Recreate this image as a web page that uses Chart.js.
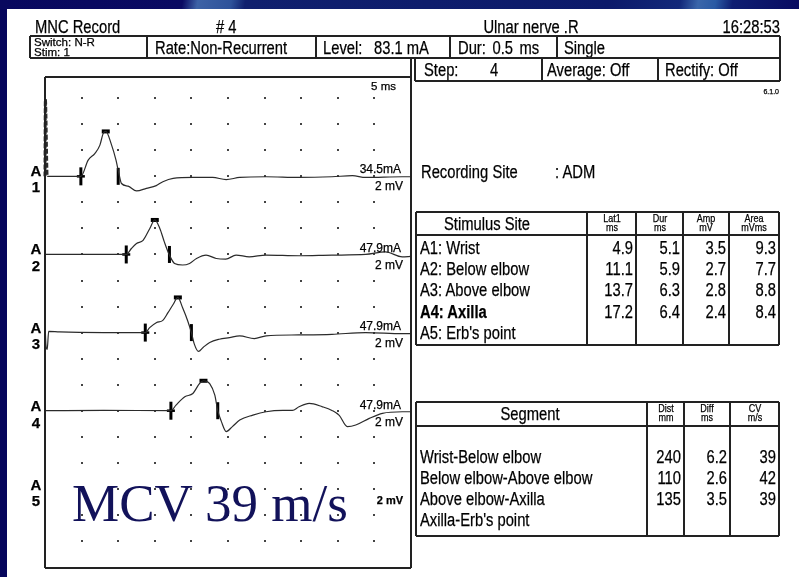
<!DOCTYPE html>
<html><head><meta charset="utf-8">
<script src="https://cdn.jsdelivr.net/npm/chart.js@4.4.1/dist/chart.umd.min.js"></script>
<style>
html,body{margin:0;padding:0;}
body{width:799px;height:577px;overflow:hidden;position:relative;background:#06065c;font-family:"Liberation Sans",Arial,sans-serif;color:#000;}
#topband{position:absolute;left:0;top:0;width:799px;height:9px;background:linear-gradient(100deg,#08085e 0px,#0a0a62 180px,#3d62a6 195px,#2e529a 228px,#10206e 242px,#0c1a6a 600px,#12287a 670px,#3a66aa 688px,#2a5aa4 705px,#0e1e72 722px,#08085e 799px);}
#paper{position:absolute;left:7px;top:9px;width:792px;height:568px;background:#fff;}
#c{position:absolute;left:0;top:0;}
#layer{position:absolute;left:0;top:0;width:799px;height:577px;}
.t{position:absolute;white-space:nowrap;line-height:1;-webkit-text-stroke:0.25px #000;}
.ln{position:absolute;background:#222;}
</style></head>
<body>
<div id="topband"></div>
<div id="paper"></div>
<canvas id="c" width="799" height="577"></canvas>
<div id="layer"></div>
<script>
// ---------- data ----------
const siteNames = ["A1: Wrist","A2: Below elbow","A3: Above elbow","A4: Axilla","A5: Erb's point"];
const latency = [4.9, 11.1, 13.7, 17.2, null];
const duration = [5.1, 5.9, 6.3, 6.4, null];
const amplitude = [3.5, 2.7, 2.8, 2.4, null];
const area = [9.3, 7.7, 8.8, 8.4, null];
const stimCurrent = ["34.5mA","47.9mA","47.9mA","47.9mA",null];
const segmentNames = ["Wrist-Below elbow","Below elbow-Above elbow","Above elbow-Axilla","Axilla-Erb's point"];
const segDist = [240, 110, 135, null];
const segDiff = [6.2, 2.6, 3.5, null];
const segCV = [39, 42, 39, null];

// traces: time (ms) and amplitude (mV)
const a1Time = [0,0.05,0.3,2.5,4.9,5.9,6.8,7.5,7.95,8.3,9.1,9.7,10.1,10.45,11.35,12.5,13.85,15.2,16.1,17.5,20.2,22.9,24.75,26.6,30.2,34.7,39.2,42.0,43.8,48.8,50];
const a1Amp  = [0,5.9,0,0,0,1.25,1.75,2.4,3.3,3.45,2.4,1.25,0.2,-0.55,-0.75,-1.12,-0.92,-0.71,-0.41,-0.15,-0.08,-0.08,-0.25,-0.08,-0.03,-0.08,-0.03,0.05,-0.08,-0.03,-0.03];
const a2Time = [0,11.1,11.8,12.5,13.4,14.3,15.0,15.7,16.3,17.0,17.7,18.8,19.75,20.7,22.0,23.4,24.7,26.1,27.9,30.2,34.7,39.2,43.8,46.5,48.8,50];
const a2Amp  = [0,0,0.46,0.84,1.09,1.98,2.65,1.98,0.97,-0.05,-0.69,-0.81,-0.69,-0.31,-0.05,-0.31,-0.36,-0.05,-0.18,-0.05,-0.1,-0.05,0,0.2,-0.18,-0.15];
const a3Time = [0,0.12,0.3,0.5,2,8,13.7,14.3,15.2,16.1,16.8,17.5,18.15,18.8,19.5,20.0,20.4,20.97,21.6,22.5,23.8,25.2,26.6,28.6,30.2,34.7,39.2,43.8,48.8,50];
const a3Amp  = [0.9,-0.9,-1.3,0.1,0.05,0,0,0.38,0.76,0.94,1.53,2.16,2.7,1.9,0.89,0,-0.89,-1.45,-1.14,-0.76,-0.51,-0.38,-0.25,-0.46,-0.25,-0.18,-0.13,0,-0.08,-0.08];
const a4Time = [0,8,17.2,17.9,19.1,20.2,21.1,21.65,22.5,23.2,23.6,24.1,24.75,25.6,26.6,28.4,30.2,32.5,33.8,34.7,36.1,37.9,39.2,40.2,41.3,42.45,44.3,46.1,48.8,50];
const a4Amp  = [0,0.03,0,0.43,1.07,1.32,2.08,2.3,2.08,1.19,0,-0.84,-1.6,-1.22,-0.72,-0.34,-0.08,0.02,0.02,0.3,0.56,0.3,0.02,-0.36,-1.22,-1.1,-0.59,-0.2,-0.08,-0.08];
const traceTimes = [a1Time, a2Time, a3Time, a4Time];
const traceAmps = [a1Amp, a2Amp, a3Amp, a4Amp];

// ---------- layout ----------
const BOX = {l:45, r:411, t:77, b:568};
const channelOffset = [0, -6, -12, -18, -24]; // mV offset of each channel baseline (3 divisions of 2 mV)
const Y_MAX = 7.63, Y_MIN = -29.85;
const NARROW = 0.82, FS = 18;
const L = document.getElementById('layer');

function txt(s, x, cy, size, align, extra, k){
  const d = document.createElement('div'); d.className = 't'; d.textContent = s;
  d.style.left = x + 'px'; d.style.top = cy + 'px'; d.style.fontSize = size + 'px';
  const tx = align === 'r' ? '-100%' : align === 'c' ? '-50%' : '0';
  if (k == null) k = NARROW;
  d.style.transformOrigin = (align === 'r' ? 'right' : align === 'c' ? 'center' : 'left') + ' center';
  d.style.transform = 'translate(' + tx + ',-50%) scaleX(' + k + ')';
  if (extra) Object.assign(d.style, extra);
  L.appendChild(d); return d;
}
function hl(x1, x2, y, w){ const d=document.createElement('div'); d.className='ln'; w=w||1.5;
  Object.assign(d.style,{left:x1+'px',top:(y-w/2)+'px',width:(x2-x1)+'px',height:w+'px'}); L.appendChild(d);}
function vl(x, y1, y2, w){ const d=document.createElement('div'); d.className='ln'; w=w||1.5;
  Object.assign(d.style,{left:(x-w/2)+'px',top:y1+'px',width:w+'px',height:(y2-y1)+'px'}); L.appendChild(d);}
function box(x1,y1,x2,y2,w){ hl(x1,x2,y1,w); hl(x1,x2,y2,w); vl(x1,y1,y2,w); vl(x2,y1,y2,w); }

// ---------- chart ----------
const dotPlugin = {
  id: 'dots',
  beforeDatasetsDraw(chart){
    const {ctx, scales:{x, y}} = chart;
    ctx.save(); ctx.fillStyle = '#444';
    for (let t = 5; t < 50; t += 5){
      for (let v = -28; v <= 6; v += 2){
        const px = Math.round(x.getPixelForValue(t)), py = Math.round(y.getPixelForValue(v));
        ctx.fillRect(px - 1, py - 1, 2, 2);
      }
    }
    ctx.restore();
  }
};

const datasets = [];
traceTimes.forEach((tt, i) => {
  datasets.push({
    type: 'line',
    data: tt.map((t, k) => ({x: t, y: traceAmps[i][k] + channelOffset[i]})),
    borderColor: '#2b2b2b', borderWidth: 1.2, pointRadius: 0,
    cubicInterpolationMode: 'monotone', clip: 4,
    segment: i === 0 ? {
      borderWidth: c => c.p0DataIndex < 2 ? 3 : 1.2,
      borderDash: c => c.p0DataIndex < 2 ? [5, 2] : []
    } : undefined
  });
});
const onsetPts = [], endPts = [], peakPts = [];
traceTimes.forEach((tt, i) => {
  onsetPts.push({x: latency[i], y: channelOffset[i]});
  endPts.push({x: latency[i] + duration[i], y: channelOffset[i]});
  let k = traceAmps[i].indexOf(Math.max(...traceAmps[i].slice(3)));
  peakPts.push({x: tt[k], y: traceAmps[i][k] + channelOffset[i]});
});
datasets.push({type:'scatter', data: onsetPts, pointStyle:'line', rotation:90, pointRadius:9, borderWidth:3, borderColor:'#000', clip:false});
datasets.push({type:'scatter', data: onsetPts, pointStyle:'line', pointRadius:4, borderWidth:2.5, borderColor:'#000', clip:false});
datasets.push({type:'scatter', data: endPts, pointStyle:'line', rotation:90, pointRadius:8.5, borderWidth:3, borderColor:'#000', clip:false});
datasets.push({type:'scatter', data: peakPts, pointStyle:'line', pointRadius:4, borderWidth:4, borderColor:'#000', clip:false});

new Chart(document.getElementById('c'), {
  data: {datasets},
  options: {
    responsive: false, animation: false, devicePixelRatio: 1,
    layout: {padding: {left: BOX.l, right: 799 - BOX.r, top: BOX.t, bottom: 577 - BOX.b}},
    plugins: {legend: {display: false}, tooltip: {enabled: false}},
    events: [],
    scales: {
      x: {type: 'linear', min: 0, max: 50, display: false},
      y: {type: 'linear', min: Y_MIN, max: Y_MAX, display: false}
    }
  },
  plugins: [dotPlugin]
});

// ---------- header ----------
txt('MNC Record', 35, 27, FS, 'l');
txt('# 4', 216, 27, FS, 'l');
txt('Ulnar nerve .R', 531, 27, FS, 'c');
txt('16:28:53', 780, 27, FS, 'r');
box(30, 36, 780, 58, 1.5);
[147, 316, 450, 557].forEach(x => vl(x, 36, 58, 1.5));
txt('Switch: N-R', 34, 42, 10.5, 'l', null, 1.1);
txt('Stim: 1', 34, 51.5, 10.5, 'l', null, 1.1);
txt('Rate:Non-Recurrent', 155, 48, FS, 'l');
txt('Level:', 323, 48, FS, 'l');
txt('83.1 mA', 374, 48, FS, 'l');
txt('Dur: 0.5 ms', 458, 48, FS, 'l', {wordSpacing:'3px'});
txt('Single', 564, 48, FS, 'l');
box(415, 58, 780, 81, 1.5);
[542, 658].forEach(x => vl(x, 58, 81, 1.5));
txt('Step:', 424, 70, FS, 'l');
txt('4', 490, 70, FS, 'l');
txt('Average: Off', 547, 70, FS, 'l');
txt('Rectify: Off', 665, 70, FS, 'l');
txt('6.1.0', 779, 91, 7, 'r', null, 1);

// ---------- trace frame ----------
hl(BOX.l, BOX.r, BOX.t, 1.5); hl(BOX.l, BOX.r, BOX.b, 2);
vl(BOX.l, BOX.t, BOX.b, 2); vl(BOX.r, 58, BOX.b, 1.5);
txt('5 ms', 396, 87, 11.5, 'r', null, 1);
const baseY = v => 177 + (0 - v) * 13.1;
for (let i = 0; i < 5; i++){
  const by = baseY(channelOffset[i]);
  txt('A', 36, by - 7.5, 15, 'c', {fontWeight:'bold'}, 1);
  txt(String(i + 1), 36, by + 9, 15, 'c', {fontWeight:'bold'}, 1);
  if (stimCurrent[i]) txt(stimCurrent[i], 401, by - 8, 12, 'r', null, 1);
  txt('2 mV', 403, by + 9, i === 4 ? 11 : 12, 'r', i === 4 ? {fontWeight:'bold'} : null, 1);
}
txt('MCV 39 m/s', 72, 503, 53, 'l', {fontFamily:'"Liberation Serif","Times New Roman",serif', color:'#12125a', webkitTextStroke:'0px'}, 1);

// ---------- recording site ----------
txt('Recording Site', 421, 172, FS, 'l');
txt(':  ADM', 555, 172, FS, 'l');

// ---------- stimulus table ----------
const sT = 212, sH = 235, sB = 345, tL = 416, tR = 779;
box(tL, sT, tR, sB, 1.5); hl(tL, tR, sH, 1.5);
const sEdges = [587, 636, 683, 729, 779];
sEdges.slice(0, 4).forEach(x => vl(x, sT, sB, 1.5));
txt('Stimulus Site', 487, 223.5, FS, 'c');
const sHead = [['Lat1','ms'],['Dur','ms'],['Amp','mV'],['Area','mVms']];
sHead.forEach((h, j) => {
  const cx = (sEdges[j] + sEdges[j+1]) / 2;
  txt(h[0], cx, 218, 11, 'c'); txt(h[1], cx, 227, 11, 'c');
});
const rowY = [247.5, 269, 290, 311.5, 333];
siteNames.forEach((n, i) => {
  txt(n, 420, rowY[i], FS, 'l', i === 3 ? {fontWeight:'bold'} : null);
  [latency, duration, amplitude, area].forEach((arr, j) => {
    if (arr[i] != null) txt(arr[i].toFixed(1), sEdges[j+1] - 3, rowY[i], FS, 'r');
  });
});

// ---------- segment table ----------
const gT = 402, gH = 426, gB = 536;
box(tL, gT, tR, gB, 1.5); hl(tL, tR, gH, 1.5);
const gEdges = [647, 684, 730, 779];
gEdges.slice(0, 3).forEach(x => vl(x, gT, gB, 1.5));
txt('Segment', 530, 414, FS, 'c');
const gHead = [['Dist','mm'],['Diff','ms'],['CV','m/s']];
gHead.forEach((h, j) => {
  const cx = (gEdges[j] + gEdges[j+1]) / 2;
  txt(h[0], cx, 408, 11, 'c'); txt(h[1], cx, 417, 11, 'c');
});
const gRowY = [457, 478, 499, 520];
segmentNames.forEach((n, i) => {
  txt(n, 420, gRowY[i], FS, 'l');
  if (segDist[i] != null) txt(String(segDist[i]), gEdges[1] - 3, gRowY[i], FS, 'r');
  if (segDiff[i] != null) txt(segDiff[i].toFixed(1), gEdges[2] - 3, gRowY[i], FS, 'r');
  if (segCV[i] != null) txt(String(segCV[i]), gEdges[3] - 3, gRowY[i], FS, 'r');
});
</script>
</body></html>
